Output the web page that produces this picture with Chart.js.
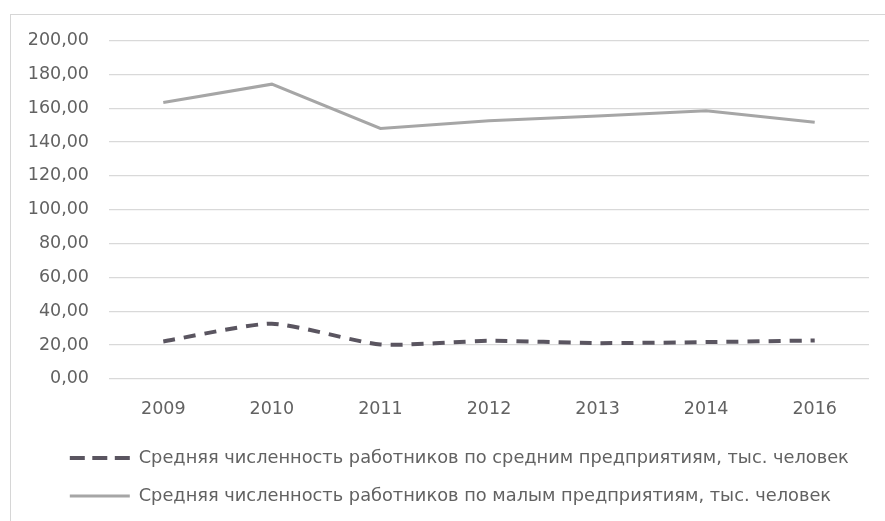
<!DOCTYPE html>
<html>
<head>
<meta charset="utf-8">
<script src="https://cdn.jsdelivr.net/npm/chart.js@4.4.1/dist/chart.umd.min.js"></script>
<style>
  html, body { margin: 0; padding: 0; background: #fff; overflow: hidden; }
  #wrap { position: relative; width: 885px; height: 521px; }
  #frame { position: absolute; left: 10px; top: 14px; width: 900px; height: 600px;
           border-left: 1px solid #d6d6d6; border-top: 1px solid #d6d6d6; box-sizing: border-box; }
  canvas { position: absolute; left: 0; top: 0; }
</style>
</head>
<body>
<div id="wrap">
  <div id="frame"></div>
  <canvas id="c" width="885" height="521"></canvas>
</div>
<script>
const categories = ['2009', '2010', '2011', '2012', '2013', '2014', '2016'];
const mediumLabel = 'Средняя численность работников по средним предприятиям, тыс. человек';
const smallLabel = 'Средняя численность работников по малым предприятиям, тыс. человек';
const mediumValues = [22.1, 32.6, 20.3, 22.5, 21.1, 21.7, 22.7];
const smallValues = [163.5, 174.3, 148.1, 152.6, 155.4, 158.5, 151.7];
const yTicks = [0, 20, 40, 60, 80, 100, 120, 140, 160, 180, 200];

const FONT = 'DejaVu Sans';
const TEXT = '#626262';

const legendShift = {
  id: 'legendShift',
  afterLayout(chart) {
    if (chart.legend) { chart.legend.left += 24.5; chart.legend.right += 24.5; }
  }
};

new Chart(document.getElementById('c'), {
  type: 'line',
  data: {
    labels: categories,
    datasets: [
      {
        label: mediumLabel,
        data: mediumValues,
        borderColor: '#5a5560',
        backgroundColor: '#5a5560',
        borderWidth: 4,
        borderDash: [12, 9],
        tension: 0.2,
        pointRadius: 0,
        pointStyle: 'line',
        fill: false
      },
      {
        label: smallLabel,
        data: smallValues,
        borderColor: '#a6a6a6',
        backgroundColor: '#a6a6a6',
        borderWidth: 3,
        tension: 0,
        pointRadius: 0,
        pointStyle: 'line',
        fill: false
      }
    ]
  },
  plugins: [legendShift],
  options: {
    responsive: false,
    animation: false,
    layout: { padding: { left: 25, right: 16, top: 40.7, bottom: 6 } },
    plugins: {
      tooltip: { enabled: false },
      legend: {
        position: 'bottom',
        align: 'start',
        labels: {
          usePointStyle: true,
          pointStyle: 'line',
          pointStyleWidth: 60,
          boxWidth: 60,
          padding: 20.3,
          color: TEXT,
          font: { family: FONT, size: 17.8 },
          generateLabels(chart) {
            const items = Chart.defaults.plugins.legend.labels.generateLabels(chart);
            items.forEach((it, i) => {
              if (i === 0) { it.lineDash = [15, 7.5]; it.lineWidth = 4; }
              else { it.lineWidth = 3; }
            });
            return items;
          }
        }
      }
    },
    scales: {
      x: {
        offset: true,
        grid: { display: false, drawTicks: false },
        border: { display: false },
        ticks: { color: TEXT, font: { family: FONT, size: 17.5 }, padding: 20, maxRotation: 0 },
        afterFit(scale) { scale.height = 50; }
      },
      y: {
        min: 0,
        max: 200,
        afterBuildTicks(scale) { scale.ticks = yTicks.map(v => ({ value: v })); },
        grid: { color: '#d9d9d9', lineWidth: 1.3, drawTicks: false },
        border: { display: false },
        ticks: {
          color: TEXT,
          font: { family: FONT, size: 17.5 },
          padding: 20,
          callback: v => Number(v).toFixed(2).replace('.', ',')
        },
        afterFit(scale) { scale.width = 84; }
      }
    }
  }
});
</script>
</body>
</html>
